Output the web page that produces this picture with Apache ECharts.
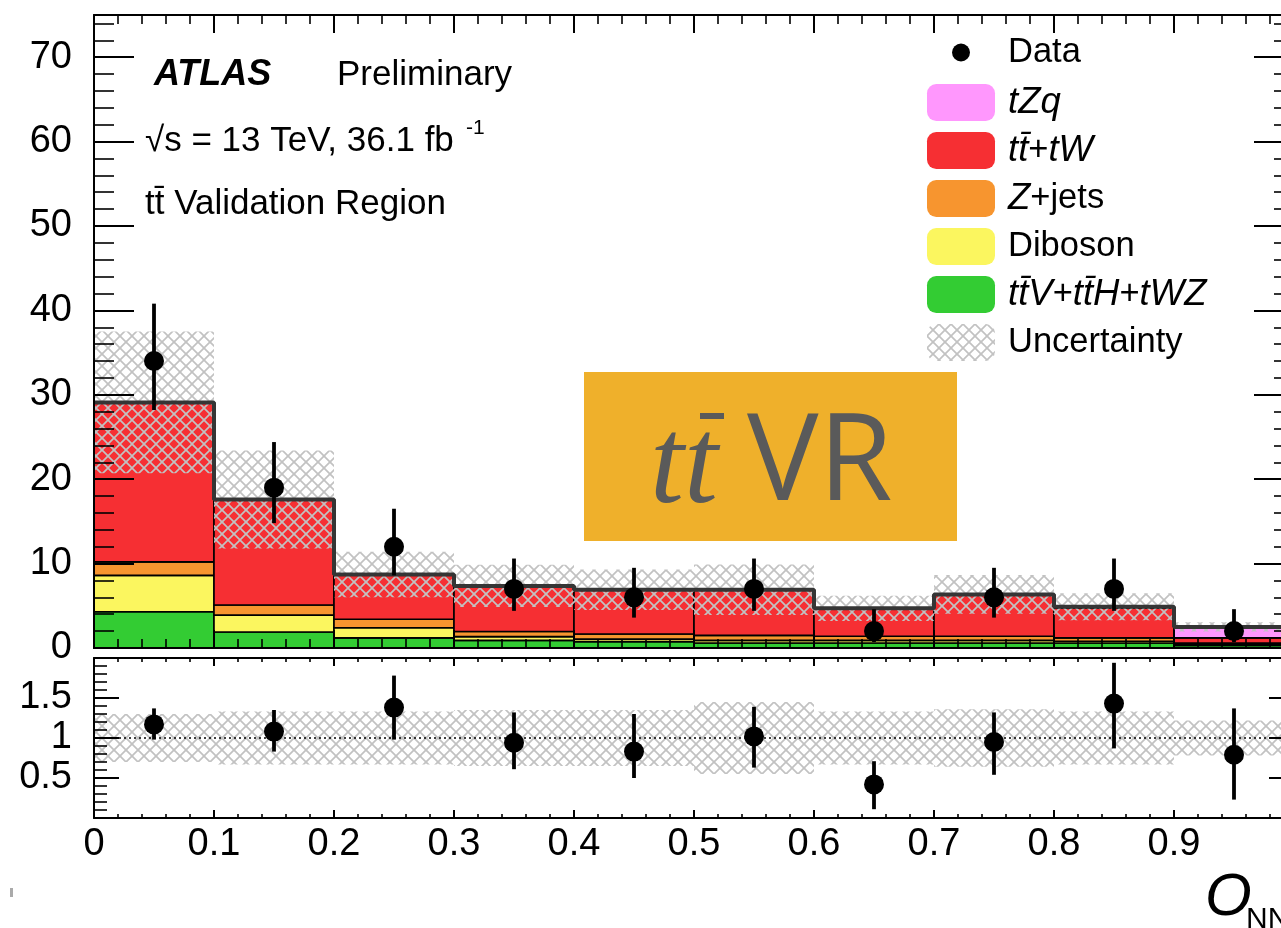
<!DOCTYPE html>
<html>
<head>
<meta charset="utf-8">
<script src="https://cdn.jsdelivr.net/npm/echarts@6/dist/echarts.min.js"></script>
<style>
html,body{margin:0;padding:0;background:#fff;}
#chart{width:1281px;height:928px;}
</style>
</head>
<body>
<div id="chart"></div>
<script>
// ---- data ----
const binEdges = [0, 0.1, 0.2, 0.3, 0.4, 0.5, 0.6, 0.7, 0.8, 0.9, 1.0];
const ttV      = [4.3, 1.9, 1.2, 0.9, 0.75, 0.6, 0.6, 0.6, 0.6, 0.3];
const diboson  = [4.3, 2.0, 1.2, 0.45, 0.3, 0.3, 0.3, 0.3, 0.2, 0.1];
const zjets    = [1.6, 1.2, 1.0, 0.6, 0.6, 0.6, 0.5, 0.5, 0.4, 0.2];
const ttbarTW  = [18.9, 12.5, 5.3, 5.4, 5.25, 5.4, 3.3, 4.9, 3.55, 0.6];
const tZq      = [0, 0, 0, 0, 0, 0, 0, 0.05, 0.15, 1.3];
const mcUnc    = [8.4, 5.8, 2.7, 2.5, 2.4, 3.0, 1.5, 2.3, 1.6, 0.55];
const dataCounts  = [34, 19, 12, 7, 6, 7, 2, 6, 7, 2];
const dataErrHigh = [40.8, 24.4, 16.5, 10.6, 9.5, 10.6, 4.6, 9.5, 10.6, 4.6];
const dataErrLow  = [28.2, 14.8, 8.6, 4.4, 3.6, 4.4, 0.7, 3.6, 4.4, 0.7];
const ratio       = [1.17, 1.08, 1.38, 0.94, 0.83, 1.02, 0.42, 0.95, 1.43, 0.79];
const ratioHigh   = [1.37, 1.35, 1.78, 1.32, 1.30, 1.39, 0.71, 1.32, 1.94, 1.37];
const ratioLow    = [0.98, 0.83, 0.98, 0.61, 0.50, 0.63, 0.11, 0.54, 0.87, 0.23];
const ratioUnc    = [0.30, 0.33, 0.33, 0.35, 0.35, 0.45, 0.33, 0.36, 0.33, 0.22];

const stackDefs = [
  {name: 'tt\u0304V+tt\u0304H+tWZ', vals: ttV, color: '#33cc33'},
  {name: 'Diboson', vals: diboson, color: '#fbf65f'},
  {name: 'Z+jets', vals: zjets, color: '#f7952f'},
  {name: 'tt\u0304+tW', vals: ttbarTW, color: '#f62f33'},
  {name: 'tZq', vals: tZq, color: '#ff97fd'}
];

const FONT = 'Liberation Sans, Arial, Helvetica, sans-serif';

// hatch pattern (cross-hatch)
const hatch = (function(){
  const c = document.createElement('canvas');
  c.width = 12; c.height = 12;
  const g = c.getContext('2d');
  g.strokeStyle = '#c2c2c2';
  g.lineWidth = 1.7;
  for (let k = -1; k <= 1; k++) {
    g.beginPath(); g.moveTo(k*12 - 1, -1); g.lineTo(k*12 + 13, 13); g.stroke();
    g.beginPath(); g.moveTo(k*12 + 13, -1); g.lineTo(k*12 - 1, 13); g.stroke();
  }
  return c;
})();
const hatchFill = {image: hatch, repeat: 'repeat'};

const nBins = binEdges.length - 1;
const base = new Array(nBins).fill(0);
const series = [];
function rectRender(fill, stroke, lw) {
  return function(params, api) {
    const p0 = api.coord([api.value(0), api.value(3)]);
    const p1 = api.coord([api.value(1), api.value(2)]);
    return {
      type: 'rect',
      shape: {x: p0[0], y: p0[1], width: p1[0] - p0[0], height: p1[1] - p0[1]},
      style: {fill: fill, stroke: stroke, lineWidth: lw}
    };
  };
}
stackDefs.forEach(function(d, si) {
  const rows = [];
  for (let i = 0; i < nBins; i++) {
    rows.push([binEdges[i], binEdges[i+1], base[i], base[i] + d.vals[i]]);
    base[i] += d.vals[i];
  }
  series.push({
    name: d.name, type: 'custom', xAxisIndex: 0, yAxisIndex: 0,
    itemStyle: {color: d.color},
    encode: {x: [0, 1], y: [2, 3]},
    renderItem: rectRender(d.color, '#000', 1.6),
    data: rows, z: 2 + si * 0.01
  });
});
const total = base.slice();

series.push({
  name: 'Uncertainty', type: 'custom', xAxisIndex: 0, yAxisIndex: 0,
  itemStyle: {color: hatchFill},
  encode: {x: [0, 1], y: [2, 3]},
  renderItem: rectRender(hatchFill, null, 0),
  data: total.map(function(t, i){ return [binEdges[i], binEdges[i+1], t - mcUnc[i], t + mcUnc[i]]; }),
  z: 3
});
const totalLine = total.map(function(t, i){ return [binEdges[i], t]; });
totalLine.push([binEdges[nBins], total[nBins-1]]);
series.push({
  name: 'TotalMC', type: 'line', xAxisIndex: 0, yAxisIndex: 0,
  step: 'end', symbol: 'none', data: totalLine,
  lineStyle: {color: '#353535', width: 4}, z: 4, silent: true
});
function errRender(params, api) {
  const a = api.coord([api.value(0), api.value(1)]);
  const b = api.coord([api.value(0), api.value(2)]);
  return {type: 'line', shape: {x1: a[0], y1: a[1], x2: b[0], y2: b[1]},
          style: {stroke: '#000', lineWidth: 3.8}};
}
const centers = binEdges.slice(0, nBins).map(function(e, i){ return (e + binEdges[i+1]) / 2; });
series.push({
  name: 'DataErr', type: 'custom', xAxisIndex: 0, yAxisIndex: 0,
  encode: {x: 0, y: [1, 2]}, renderItem: errRender, z: 5,
  data: centers.map(function(c, i){ return [c, dataErrLow[i], dataErrHigh[i]]; })
});
series.push({
  name: 'Data', type: 'scatter', xAxisIndex: 0, yAxisIndex: 0,
  symbol: 'circle', symbolSize: 20, itemStyle: {color: '#000', opacity: 1}, z: 6,
  data: centers.map(function(c, i){ return [c, dataCounts[i]]; })
});

series.push({
  name: 'RatioUnc', type: 'custom', xAxisIndex: 2, yAxisIndex: 2,
  encode: {x: [0, 1], y: [2, 3]},
  renderItem: rectRender(hatchFill, null, 0), z: 3,
  data: ratioUnc.map(function(u, i){ return [binEdges[i], binEdges[i+1], 1 - u, 1 + u]; })
});
series.push({
  name: 'One', type: 'line', xAxisIndex: 2, yAxisIndex: 2, symbol: 'none', silent: true,
  data: [[binEdges[0], 1], [binEdges[nBins], 1]],
  lineStyle: {color: '#000', width: 1.5, type: [2, 3]}, z: 4
});
series.push({
  name: 'RatioErr', type: 'custom', xAxisIndex: 2, yAxisIndex: 2,
  encode: {x: 0, y: [1, 2]}, renderItem: errRender, z: 5,
  data: centers.map(function(c, i){ return [c, ratioLow[i], ratioHigh[i]]; })
});
series.push({
  name: 'RatioPts', type: 'scatter', xAxisIndex: 2, yAxisIndex: 2,
  symbol: 'circle', symbolSize: 20, itemStyle: {color: '#000', opacity: 1}, z: 6,
  data: centers.map(function(c, i){ return [c, ratio[i]]; })
});

const axisLineStyle = {show: true, onZero: false, lineStyle: {color: '#000', width: 2}};
function xAx(grid, pos, showLabel, tickLen, minorLen) {
  return {
    type: 'value', gridIndex: grid, position: pos, min: 0, max: 1, interval: 0.1, z: 10,
    axisLine: axisLineStyle,
    axisTick: {show: true, inside: true, length: tickLen, lineStyle: {color: '#000', width: 2}},
    minorTick: {show: true, splitNumber: 5, length: minorLen, lineStyle: {color: '#000', width: 1.6}},
    splitLine: {show: false},
    axisLabel: {show: showLabel, showMaxLabel: false, color: '#000', fontSize: 38, fontFamily: FONT, margin: 8,
      formatter: function(v){ return String(Math.round(v * 10) / 10); }}
  };
}
function yAx(grid, pos, showLabel, max, interval, tickLen, minorLen, hideMin) {
  return {
    type: 'value', gridIndex: grid, position: pos, min: 0, max: max, interval: interval, z: 10,
    axisLine: axisLineStyle,
    axisTick: {show: true, inside: true, length: tickLen, lineStyle: {color: '#000', width: 2}},
    minorTick: {show: true, splitNumber: 5, length: minorLen, lineStyle: {color: '#000', width: 1.6}},
    splitLine: {show: false},
    axisLabel: {show: showLabel, showMaxLabel: false, showMinLabel: !hideMin, color: '#000', fontSize: 38,
      fontFamily: FONT, margin: 22, formatter: function(v){ return String(Math.round(v * 10) / 10); }}
  };
}

function richName(name) {
  const map = {
    'tZq': '{i|tZq}',
    'tt\u0304+tW': '{i|tt\u0304}{n|+}{i|tW}',
    'Z+jets': '{i|Z}{n|+jets}',
    'Diboson': '{n|Diboson}',
    'tt\u0304V+tt\u0304H+tWZ': '{i|tt\u0304V}{n|+}{i|tt\u0304H}{n|+}{i|tWZ}',
    'Uncertainty': '{n|Uncertainty}',
    'Data': '{n|Data}'
  };
  return map[name] || name;
}
const LFS = 34.5;
const legendText = {
  color: '#000', fontSize: LFS, fontFamily: FONT, lineHeight: 37, padding: [0, 0, 0, 8],
  rich: {
    i: {fontStyle: 'italic', fontSize: 36.5, fontFamily: FONT, color: '#000', lineHeight: 37},
    n: {fontSize: LFS, fontFamily: FONT, color: '#000', lineHeight: 37}
  }
};

const TFS = 35;
const option = {
  animation: false,
  backgroundColor: '#fff',
  grid: [
    {left: 94, right: -13, top: 15, height: 633, outerBoundsMode: 'none', containLabel: false},
    {left: 94, right: -13, top: 658, height: 160, outerBoundsMode: 'none', containLabel: false}
  ],
  xAxis: [
    xAx(0, 'bottom', false, 18, 9),
    xAx(0, 'top', false, 18, 9),
    xAx(1, 'bottom', true, 8, 4),
    xAx(1, 'top', false, 8, 4)
  ],
  yAxis: [
    yAx(0, 'left', true, 75, 10, 40, 20, false),
    yAx(0, 'right', false, 75, 10, 40, 20, false),
    yAx(1, 'left', true, 2, 0.5, 25, 13, true),
    yAx(1, 'right', false, 2, 0.5, 25, 13, true)
  ],
  legend: [
    {
      orient: 'vertical', left: 952, top: 34, padding: 0, itemGap: 11,
      itemWidth: 68, itemHeight: 18, selectedMode: false,
      data: [{name: 'Data', icon: 'circle'}],
      formatter: richName, textStyle: legendText
    },
    {
      orient: 'vertical', left: 927, top: 84, padding: 0, itemGap: 11,
      itemWidth: 68, itemHeight: 37, selectedMode: false, icon: 'roundRect',
      data: ['tZq', 'tt\u0304+tW', 'Z+jets', 'Diboson', 'tt\u0304V+tt\u0304H+tWZ', 'Uncertainty'],
      formatter: richName, textStyle: legendText
    }
  ],
  graphic: [
    {type: 'text', x: 154, y: 75, z: 50, style: {text: 'ATLAS', fontSize: 36, fontStyle: 'italic', fontWeight: 'bold', fontFamily: FONT, fill: '#000', verticalAlign: 'middle'}},
    {type: 'text', x: 337, y: 75, z: 50, style: {text: 'Preliminary', fontSize: TFS, fontFamily: FONT, fill: '#000', verticalAlign: 'middle'}},
    {type: 'text', x: 145, y: 141, z: 50, style: {text: '\u221As = 13 TeV, 36.1 fb', fontSize: TFS, fontFamily: FONT, fill: '#000', verticalAlign: 'middle'}},
    {type: 'text', x: 466, y: 128, z: 50, style: {text: '-1', fontSize: 21, fontFamily: FONT, fill: '#000', verticalAlign: 'middle'}},
    {type: 'text', x: 145, y: 204, z: 50, style: {text: 'tt\u0304 Validation Region', fontSize: TFS, fontFamily: FONT, fill: '#000', verticalAlign: 'middle'}},
    {type: 'rect', z: 60, shape: {x: 584, y: 372, width: 373, height: 169}, style: {fill: '#efb02b'}},
    {type: 'text', x: 650, y: 470, z: 61, style: {text: 'tt', fontSize: 122, fontStyle: 'italic', fontFamily: 'Liberation Serif, DejaVu Serif, serif', fill: '#5a5a5a', verticalAlign: 'middle'}},
    {type: 'rect', z: 61, shape: {x: 700, y: 413, width: 24, height: 6}, style: {fill: '#5a5a5a'}},
    {type: 'text', x: 747, y: 466, z: 61, style: {text: 'VR', fontSize: 120, fontFamily: 'Open Sans, Noto Sans, sans-serif', fill: '#5a5a5a', verticalAlign: 'middle'}},
    {type: 'text', x: 1205, y: 898, z: 50, style: {text: 'O', fontSize: 60, fontStyle: 'italic', fontFamily: FONT, fill: '#000', verticalAlign: 'middle'}},
    {type: 'text', x: 1246, y: 920, z: 50, style: {text: 'NN', fontSize: 30, fontFamily: FONT, fill: '#000', verticalAlign: 'middle'}},
    {type: 'rect', z: 50, shape: {x: 10, y: 888, width: 3, height: 9}, style: {fill: '#aaa'}}
  ],
  series: series
};

const chart = echarts.init(document.getElementById('chart'), null, {renderer: 'canvas'});
chart.setOption(option);
</script>
</body>
</html>
